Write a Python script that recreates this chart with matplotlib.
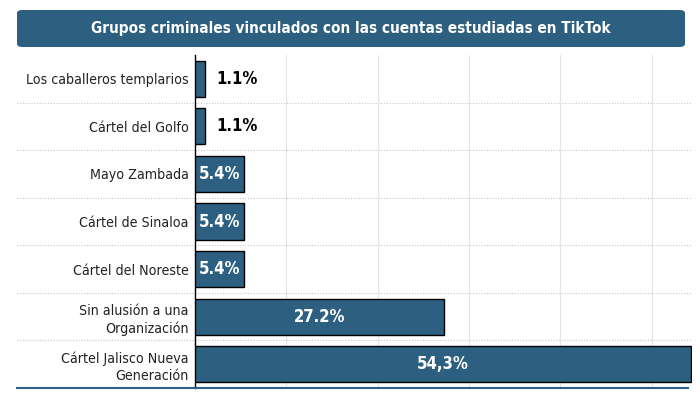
import matplotlib.pyplot as plt
from matplotlib.patches import FancyBboxPatch
from matplotlib import font_manager

categories = ["Los caballeros templarios", "Cártel del Golfo", "Mayo Zambada",
              "Cártel de Sinaloa", "Cártel del Noreste",
              "Sin alusión a una\nOrganización", "Cártel Jalisco Nueva\nGeneración"]
values = [1.1, 1.1, 5.4, 5.4, 5.4, 27.2, 54.3]
labels = ["1.1%", "1.1%", "5.4%", "5.4%", "5.4%", "27.2%", "54,3%"]

# look for a narrow/condensed upright face among installed fonts
regular_path, bold_path = None, None
for f in sorted(font_manager.fontManager.ttflist, key=lambda f: f.fname):
    fn = f.fname.lower().split("/")[-1]
    if f.style != "normal":
        continue
    if not ("condensed" in fn or "narrow" in fn):
        continue
    if any(w in fn for w in ["semi", "extra", "ultra", "italic", "oblique"]):
        continue
    if f.weight in (400, "normal", "regular") and regular_path is None:
        regular_path = f.fname
    if f.weight in (700, "bold") and bold_path is None:
        bold_path = f.fname

if regular_path:
    reg = font_manager.FontProperties(fname=regular_path)
    scale = 1.0
else:
    reg = font_manager.FontProperties(family="DejaVu Sans")
    scale = 0.85
if bold_path:
    bold = font_manager.FontProperties(fname=bold_path)
    bscale = 1.0
else:
    bold = font_manager.FontProperties(family="DejaVu Sans", weight="bold")
    bscale = 0.85

blue = "#2d5f80"

fig = plt.figure(figsize=(7, 3.99), dpi=100)
ax = fig.add_axes([195 / 700, 1 - 388 / 399, 497 / 700, 333 / 399])

y = list(range(len(values)))
ax.barh(y, values, height=0.76, color=blue, edgecolor="black", linewidth=1, zorder=3)
ax.set_ylim(len(values) - 0.5, -0.5)
ax.set_xlim(0, 54.4)

for i, (v, lab) in enumerate(zip(values, labels)):
    if v < 3:
        ax.text(4.6, i, lab, ha="center", va="center", fontproperties=bold,
                fontsize=12 * bscale, color="black", zorder=4)
    else:
        ax.text(v / 2, i, lab, ha="center", va="center", fontproperties=bold,
                fontsize=12 * bscale, color="white", zorder=4)

ax.set_yticks(y)
ax.set_yticklabels(categories)
for t in ax.get_yticklabels():
    t.set_fontproperties(reg)
    t.set_fontsize(10.2 * scale)
    t.set_color("#222222")
    t.set_linespacing(1.3)
ax.tick_params(axis="y", length=0, pad=4.5)
ax.set_xticks([10, 20, 30, 40, 50])
ax.tick_params(axis="x", length=0, labelbottom=False)
ax.grid(axis="x", color="#e3e3e3", linewidth=0.8, zorder=0)

for s in ["top", "right", "bottom"]:
    ax.spines[s].set_visible(False)
ax.spines["left"].set_color("black")
ax.spines["left"].set_linewidth(1)

# dotted row separators across labels and plot
for k in range(len(values) - 1):
    ax.axhline(k + 0.5, xmin=-0.358, xmax=1.0, color="#c8c8c8", linewidth=0.8,
               linestyle=(0, (1, 1.5)), clip_on=False, zorder=1)

# bottom rule
fig.add_artist(plt.Line2D([17 / 700, 688 / 700], [1 - 388 / 399] * 2,
                          color=blue, linewidth=1.5))

# title banner
box = FancyBboxPatch((17 / 700, 1 - 47 / 399), 668 / 700, 37 / 399,
                     boxstyle="round,pad=0,rounding_size=0.008",
                     transform=fig.transFigure, facecolor=blue,
                     edgecolor="none")
fig.add_artist(box)
fig.text(351 / 700, 1 - 29 / 399,
         "Grupos criminales vinculados con las cuentas estudiadas en TikTok",
         ha="center", va="center", color="white", fontproperties=bold,
         fontsize=11 * (1.0 if bold_path else 0.9))

fig.savefig("out.png", dpi=100, facecolor="white")
